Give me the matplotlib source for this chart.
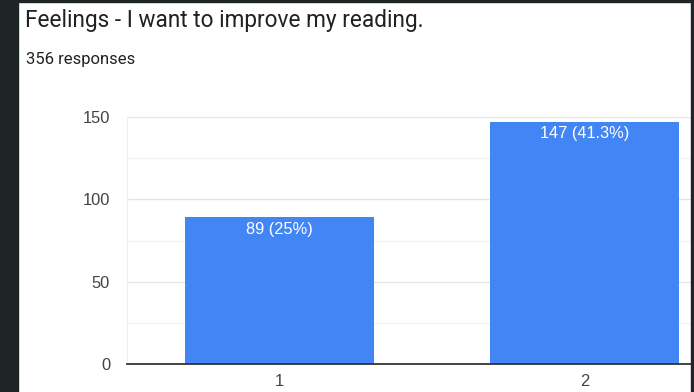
import matplotlib
matplotlib.use("Agg")
import matplotlib.pyplot as plt
from matplotlib.patches import Rectangle

# data
categories = ["1", "2"]
counts = [89, 147]
labels = ["89 (25%)", "147 (41.3%)"]
title = "Feelings - I want to improve my reading."
subtitle = "356 responses"

W, H = 694, 392
fig = plt.figure(figsize=(W / 100, H / 100), dpi=100)
fig.patch.set_facecolor("white")

# dark browser edges around the screenshot
fig.patches.append(Rectangle((0, 0), 18 / W, 1, transform=fig.transFigure, color="#1f2427", zorder=5))
fig.patches.append(Rectangle((0, 1 - 2 / H), 1, 2 / H, transform=fig.transFigure, color="#1f2427", zorder=5))
fig.patches.append(Rectangle((691 / W, 0), 3 / W, 1, transform=fig.transFigure, color="#1f2427", zorder=5))

fig.text(25 / W, 1 - 26.5 / H, title, fontsize=16.3, family="Roboto", color="#202124", va="baseline")
fig.text(25.5 / W, 1 - 64 / H, subtitle, fontsize=12, family="Roboto", color="#202124", va="baseline")

ax = fig.add_axes([127 / W, 1 - 364 / H, (691 - 127) / W, (364 - 117) / H])
x = list(range(1, len(categories) + 1))
ax.bar(x, counts, width=0.617, color="#4285f4", zorder=3)

for xi, c, lab in zip(x, counts, labels):
    ax.annotate(lab, (xi, c), xytext=(0, -8.6), textcoords="offset points",
                ha="center", va="center", color="white", fontsize=11.8,
                family="Liberation Sans", zorder=4)

ax.set_yticks([0, 50, 100, 150])
ax.set_yticks([25, 75, 125], minor=True)
ax.set_xticks(x)
ax.set_xticklabels(categories)
ax.set_xlim(0.5, 0.5 + (691 - 127) / 305)
ax.set_ylim(0, 150)
ax.grid(True, which="major", axis="y", color="#e6e6e6", linewidth=1, zorder=0)
ax.grid(True, which="minor", axis="y", color="#f3f3f3", linewidth=1, zorder=0)

for side in ["top", "right"]:
    ax.spines[side].set_visible(False)
ax.spines["left"].set_color("#eeeeee")
ax.spines["bottom"].set_color("#333333")
ax.spines["bottom"].set_linewidth(1.3)
ax.spines["bottom"].set_zorder(4)

ax.tick_params(axis="both", which="both", length=0, labelsize=11.9, labelcolor="#444444")
ax.tick_params(axis="y", pad=12.2)
ax.tick_params(axis="x", pad=7)
for t in ax.get_xticklabels() + ax.get_yticklabels():
    t.set_family("Liberation Sans")

fig.savefig("out.png", dpi=100)
